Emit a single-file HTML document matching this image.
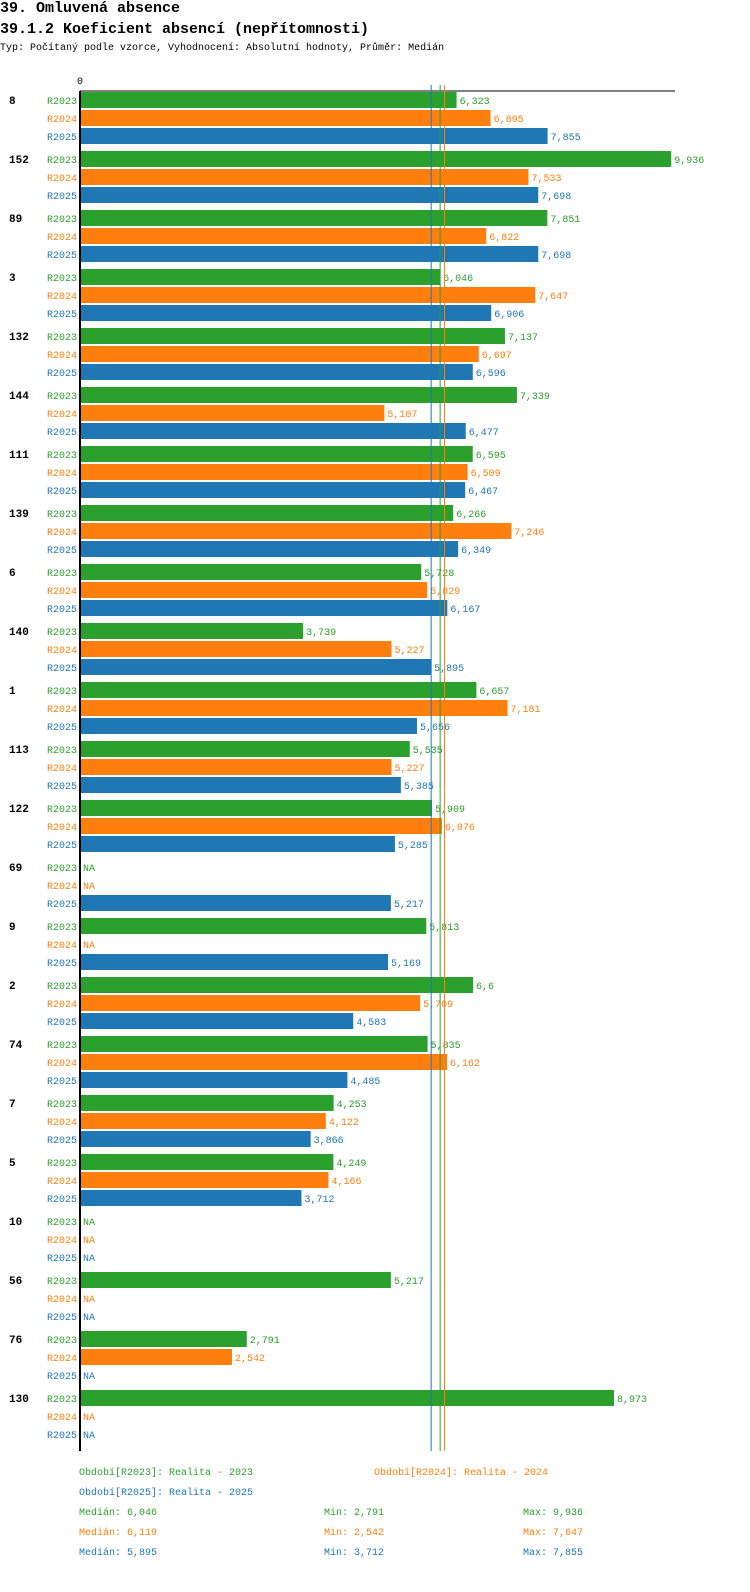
<!DOCTYPE html>
<html><head><meta charset="utf-8"><style>
body{margin:0;background:#fff;width:750px;height:1592px;overflow:hidden;font-family:"Liberation Mono","DejaVu Sans Mono",monospace;}
.t1{position:absolute;left:0;top:0;font-size:15px;font-weight:bold;}
.t2{position:absolute;left:0;top:21px;font-size:15px;font-weight:bold;}
.t3{position:absolute;left:0;top:43px;font-size:10px;}
</style></head><body>
<div class="t1">39. Omluvená absence</div>
<div class="t2">39.1.2 Koeficient absencí (nepřítomnosti)</div>
<div class="t3">Typ: Počítaný podle vzorce, Vyhodnocení: Absolutní hodnoty, Průměr: Medián</div>
<svg id="chart" width="750" height="1592" style="position:absolute;left:0;top:0"></svg>
<script>
const categories=["8","152","89","3","132","144","111","139","6","140","1","113","122","69","9","2","74","7","5","10","56","76","130"];
const seriesNames=["R2023","R2024","R2025"];
const r2023=[6.323,9.936,7.851,6.046,7.137,7.339,6.595,6.266,5.728,3.739,6.657,5.535,5.909,null,5.813,6.6,5.835,4.253,4.249,null,5.217,2.791,8.973];
const r2024=[6.895,7.533,6.822,7.647,6.697,5.107,6.509,7.246,5.829,5.227,7.181,5.227,6.076,null,null,5.709,6.162,4.122,4.166,null,null,2.542,null];
const r2025=[7.855,7.698,7.698,6.906,6.596,6.477,6.467,6.349,6.167,5.895,5.656,5.385,5.285,5.217,5.169,4.583,4.485,3.866,3.712,null,null,null,null];
const medians=[6.046,6.119,5.895];
const mins=[2.791,2.542,3.712];
const maxs=[9.936,7.647,7.855];
const colors=["#2ca02c","#ff7f0e","#1f77b4"];
const series=[r2023,r2024,r2025];
const NS="http://www.w3.org/2000/svg";
const svg=document.getElementById('chart');
const x0=81, scale=59.4;
function xs(v){return x0+v*scale;}
function gy(i){return 92+i*59;}
function el(tag,attrs,parent){const e=document.createElementNS(NS,tag);for(const k in attrs)e.setAttribute(k,attrs[k]);(parent||svg).appendChild(e);return e;}
function fmt(v){return String(v).replace('.',',');}
// axis
let a=el('line',{x1:80,y1:91,x2:675,y2:91,stroke:'#000','stroke-width':1});


let t0=el('text',{x:80,y:84,'font-size':10,'text-anchor':'middle','font-family':'Liberation Mono, monospace'});t0.textContent='0';


categories.forEach((c,i)=>{
  const y=gy(i);
  const ct=el('text',{x:9,y:y+12,'font-size':11,'font-weight':'bold','font-family':'Liberation Mono, monospace'});ct.textContent=c;
  
  
  series.forEach((s,j)=>{
    const by=y+j*18, v=s[i];
    const lt=el('text',{x:77,y:by+12,'font-size':10,'text-anchor':'end',fill:colors[j],'font-family':'Liberation Mono, monospace'});lt.textContent=seriesNames[j];
    
    
    if(v===null){
      const n=el('text',{x:83,y:by+12,'font-size':10,fill:colors[j],'font-family':'Liberation Mono, monospace'});n.textContent='NA';
      
      
    } else {
      const r=el('rect',{x:x0,y:by,width:xs(v)-x0,height:16,fill:colors[j]});
      
      
      const vt=el('text',{x:xs(v)+3,y:by+12,'font-size':10,fill:colors[j],'font-family':'Liberation Mono, monospace'});vt.textContent=fmt(v);
      
      
    }
  });
});
medians.forEach((m,j)=>{
  const l=el('line',{x1:xs(m),y1:85,x2:xs(m),y2:1451,stroke:colors[j],'stroke-width':1});
  
  
});
let ax=el('line',{x1:80,y1:91,x2:80,y2:1451,stroke:'#000','stroke-width':2});


// legend
const leg=[["Období[R2023]: Realita - 2023",79,1475,0],["Období[R2024]: Realita - 2024",374,1475,1],["Období[R2025]: Realita - 2025",79,1495,2]];
leg.forEach(l=>{const t=el('text',{x:l[1],y:l[2],'font-size':10,fill:colors[l[3]],'font-family':'Liberation Mono, monospace'});t.textContent=l[0];
  
  });
[0,1,2].forEach(j=>{
  const y=1515+j*20;
  const a1=el('text',{x:79,y:y,'font-size':10,fill:colors[j],'font-family':'Liberation Mono, monospace'});a1.textContent='Medián: '+fmt(medians[j]);
  
  
  const a2=el('text',{x:324,y:y,'font-size':10,fill:colors[j],'font-family':'Liberation Mono, monospace'});a2.textContent='Min: '+fmt(mins[j]);
  
  
  const a3=el('text',{x:523,y:y,'font-size':10,fill:colors[j],'font-family':'Liberation Mono, monospace'});a3.textContent='Max: '+fmt(maxs[j]);
  
  
});
</script>
</body></html>
